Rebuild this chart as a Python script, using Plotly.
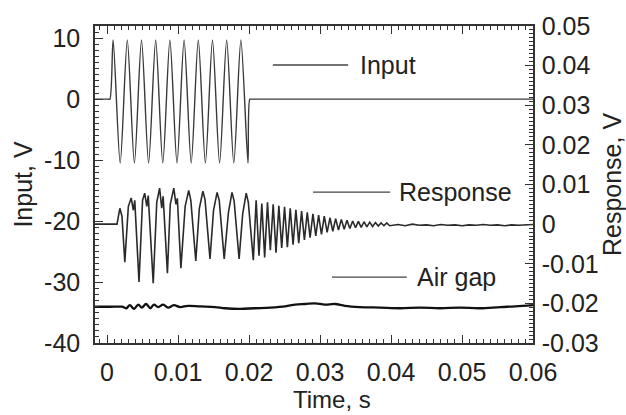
import plotly.graph_objects as go

# ---------------- data ----------------
# Input, V (left axis): vertices of the 500 Hz burst, then zero
input_t = [-0.0017, 0.0002, 0.0004, 0.00085, 0.00185, 0.00285, 0.00385, 0.00485, 0.00585,
           0.00685, 0.00785, 0.00885, 0.00985, 0.01085, 0.01185, 0.01285, 0.01385,
           0.01485, 0.01585, 0.01685, 0.01785, 0.01885, 0.01985, 0.0201, 0.0203, 0.0600]
input_v = [0.0, 0.0, 0.0, 9.7, -10.5, 9.7, -10.5, 9.7, -10.5,
           9.7, -10.5, 9.7, -10.5, 9.7, -10.5, 9.7, -10.5,
           9.7, -10.5, 9.7, -10.5, 9.7, -10.5, 0.0, 0.0, 0.0]

# Response, V (right axis)
resp_t = [-0.0017, 0.0000, 0.0014,
          0.0018, 0.0021, 0.0025,
          0.0030, 0.0034, 0.0037, 0.0039, 0.0045,
          0.0050, 0.0053, 0.0056, 0.0058, 0.0065,
          0.0070, 0.0074, 0.0077, 0.0079, 0.0085,
          0.0089, 0.0094, 0.0097, 0.0099, 0.0104,
          0.0110, 0.0115, 0.0118, 0.0125,
          0.0130, 0.0135, 0.0138, 0.0145,
          0.0150, 0.0155, 0.0158, 0.0165,
          0.0171, 0.0176, 0.0179, 0.0186,
          0.0191, 0.0196, 0.0199, 0.0206,
          0.0210, 0.0214, 0.0218, 0.0222, 0.0226, 0.0230, 0.0234, 0.0238,
          0.0242, 0.0246, 0.0250, 0.0254, 0.0258, 0.0262, 0.0266, 0.0270,
          0.0274, 0.0278, 0.0282, 0.0286, 0.0290, 0.0294, 0.0298, 0.0302,
          0.0306, 0.0310, 0.0314, 0.0318, 0.0322, 0.0326, 0.0330, 0.0334,
          0.0338, 0.0342, 0.0346, 0.0350, 0.0354, 0.0358, 0.0362, 0.0366,
          0.0370, 0.0374, 0.0378, 0.0382, 0.0386, 0.0390, 0.0394, 0.0398,
          0.041, 0.042, 0.043, 0.044, 0.045, 0.046, 0.047, 0.048, 0.049, 0.050,
          0.051, 0.052, 0.053, 0.054, 0.055, 0.056, 0.057, 0.058, 0.059, 0.060]
resp_v = [0.0, 0.0001, 0.0,
          0.0040, 0.0020, -0.0096,
          0.0045, 0.0066, 0.0035, 0.0060, -0.0146,
          0.0060, 0.0078, 0.0045, 0.0072, -0.0149,
          0.0055, 0.0091, 0.0040, 0.0070, -0.0124,
          0.0050, 0.0091, 0.0050, 0.0065, -0.0111,
          0.0045, 0.0085, 0.0060, -0.0093,
          0.0040, 0.0083, 0.0062, -0.0088,
          0.0035, 0.0080, 0.0060, -0.0088,
          0.0030, 0.0080, 0.0058, -0.0088,
          0.0025, 0.0078, 0.0055, -0.0091,
          0.0060, -0.0080, 0.0052, -0.0084, 0.0055, -0.0066, 0.0050, -0.0072,
          0.0046, -0.0060, 0.0044, -0.0058, 0.0040, -0.0052, 0.0036, -0.0048,
          0.0033, -0.0040, 0.0030, -0.0034, 0.0026, -0.0030, 0.0023, -0.0026,
          0.0020, -0.0021, 0.0016, -0.0018, 0.0014, -0.0015, 0.0012, -0.0013,
          0.0010, -0.0011, 0.0008, -0.0009, 0.0007, -0.0008, 0.0006, -0.0007,
          0.0005, -0.0006, 0.0004, -0.0005, 0.0003, -0.0004, 0.0003, -0.0004,
          -0.0001, -0.0004, 0.0000, -0.0003, -0.0002, -0.0004, -0.0001, -0.0003, -0.0002, -0.0004,
          -0.0002, -0.0003, -0.0001, -0.0003, -0.0002, -0.0004, -0.0002, -0.0003, -0.0002, -0.0001]

# Air gap (left axis scale)
gap_t = [-0.0017, 0.0004, 0.0021, 0.0027, 0.0032, 0.0038, 0.0044, 0.0049, 0.0055,
         0.0061, 0.0066, 0.0072, 0.0079, 0.0086, 0.0094, 0.0103, 0.0114, 0.0131,
         0.0152, 0.0166, 0.0187, 0.0208, 0.0230, 0.0251, 0.0265, 0.0279, 0.0293,
         0.0307, 0.0321, 0.0335, 0.0356, 0.0385, 0.0413, 0.0441, 0.0469, 0.0497,
         0.0525, 0.0554, 0.0575, 0.0600]
gap_v = [-34.05, -34.05, -34.05, -34.3, -33.8, -34.4, -33.7, -34.2, -33.6,
         -34.3, -33.7, -34.1, -33.7, -34.2, -33.8, -34.1, -33.9, -34.0,
         -34.1, -34.3, -34.4, -34.3, -34.2, -34.0, -33.7, -33.6, -33.5,
         -33.7, -33.6, -33.9, -34.1, -34.2, -34.3, -34.2, -34.3, -34.2,
         -34.3, -34.1, -34.0, -33.8]

x_ticks = [0, 0.01, 0.02, 0.03, 0.04, 0.05, 0.06]
x_labels = ["0", "0.01", "0.02", "0.03", "0.04", "0.05", "0.06"]
y_ticks = [-40, -30, -20, -10, 0, 10]
y_labels = ["-40", "-30", "-20", "-10", "0", "10"]
y2_ticks = [-0.03, -0.02, -0.01, 0, 0.01, 0.02, 0.03, 0.04, 0.05]
y2_labels = ["-0.03", "-0.02", "-0.01", "0", "0.01", "0.02", "0.03", "0.04", "0.05"]
series_names = ["Input", "Response", "Air gap"]

# ---------------- figure ----------------
FONT = "Liberation Sans, Arial, sans-serif"
INK = "#222222"

fig = go.Figure()
fig.add_trace(go.Scatter(x=input_t, y=input_v, mode="lines", name=series_names[0],
                         line=dict(color="#3a3a3a", width=1.4, shape="spline", smoothing=0.8),
                         yaxis="y"))
fig.add_trace(go.Scatter(x=resp_t, y=resp_v, mode="lines", name=series_names[1],
                         line=dict(color="#2a2a2a", width=1.6), yaxis="y2"))
fig.add_trace(go.Scatter(x=gap_t, y=gap_v, mode="lines", name=series_names[2],
                         line=dict(color="#111111", width=2.3, shape="spline"), yaxis="y"))

axis_common = dict(showgrid=False, zeroline=False, showline=True, linecolor="#333333",
                   linewidth=1.5, ticks="inside", tickcolor="#333333", tickwidth=1.2,
                   ticklen=8, tickfont=dict(family=FONT, size=25, color=INK))

fig.update_layout(
    width=626, height=415,
    margin=dict(l=95, r=93, t=26, b=72, autoexpand=False),
    paper_bgcolor="white", plot_bgcolor="white",
    showlegend=False,
    font=dict(family=FONT, size=25, color=INK),
    xaxis=dict(range=[-0.0017, 0.06], tickvals=x_ticks, ticktext=x_labels,
               mirror="ticks", ticklabelstandoff=6,
               minor=dict(dtick=0.001, ticks="inside", ticklen=4, tickcolor="#333333", tickwidth=1),
               **axis_common),
    yaxis=dict(range=[-40, 12], tickvals=y_ticks, ticktext=y_labels,
               ticklabelstandoff=8,
               title=dict(text="Input, V", font=dict(family=FONT, size=25, color=INK), standoff=4),
               minor=dict(dtick=1, ticks="inside", ticklen=4, tickcolor="#333333", tickwidth=1),
               **axis_common),
    yaxis2=dict(range=[-0.03, 0.05], tickvals=y2_ticks, ticktext=y2_labels,
                overlaying="y", side="right", ticklabelstandoff=2,
                title=dict(text="Response, V", font=dict(family=FONT, size=25, color=INK), standoff=0),
                minor=dict(dtick=0.001, ticks="inside", ticklen=4, tickcolor="#333333", tickwidth=1),
                **axis_common),
)

# legend-like labels placed inside the plot, as in the reference
legend_pos = [  # (x0, x1, y, text_x) in paper coordinates
    (0.406, 0.578, 0.877, 0.600),
    (0.498, 0.674, 0.476, 0.689),
    (0.541, 0.712, 0.208, 0.731),
]
for (x0, x1, yy, tx), name in zip(legend_pos, series_names):
    fig.add_shape(type="line", xref="paper", yref="paper", x0=x0, x1=x1, y0=yy, y1=yy,
                  line=dict(color="#444444", width=1.3))
    fig.add_annotation(xref="paper", yref="paper", x=tx, y=yy, text=name, showarrow=False,
                       xanchor="left", yanchor="middle",
                       font=dict(family=FONT, size=25, color=INK))

fig.add_annotation(xref="paper", yref="paper", x=0.542, y=-0.177, text="Time, s",
                   showarrow=False, xanchor="center", yanchor="middle",
                   font=dict(family=FONT, size=24, color=INK))

fig.write_html("out.html", config={"displayModeBar": False},
               post_script="document.body.style.margin='0';document.body.style.overflow='hidden';")
